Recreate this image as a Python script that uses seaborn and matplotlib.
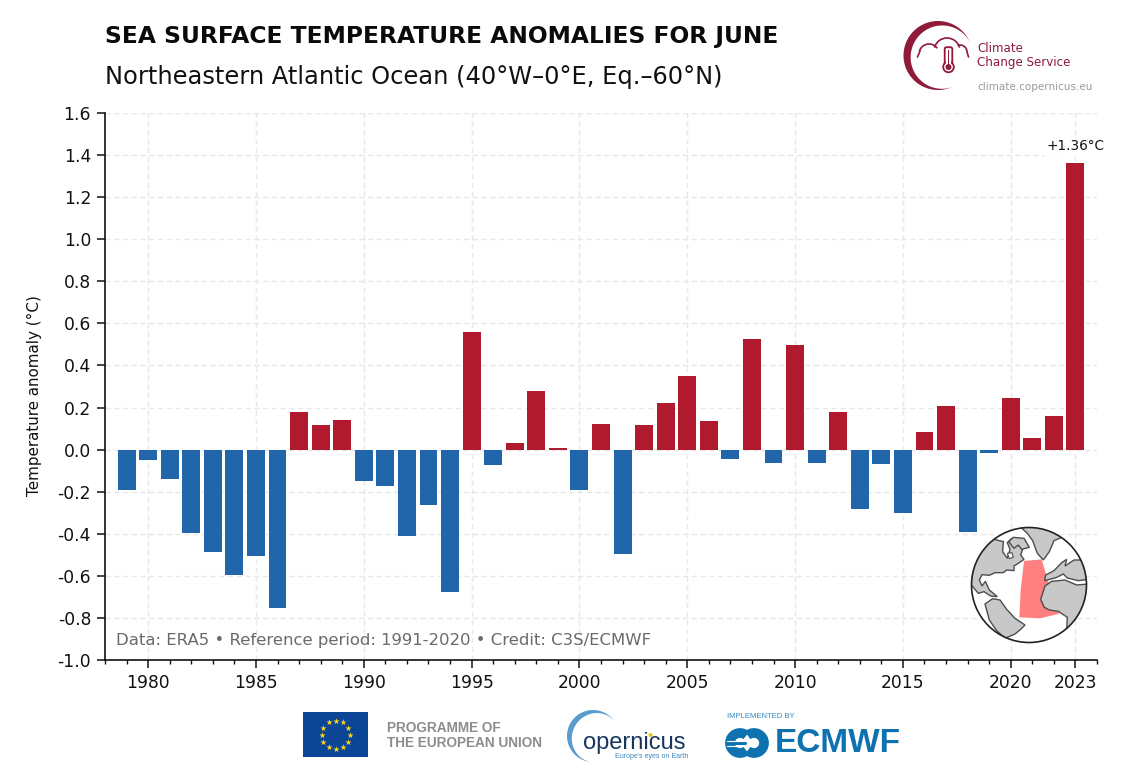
import numpy as np
import pandas as pd
import matplotlib
matplotlib.use("Agg")
import matplotlib.pyplot as plt
from matplotlib.patches import Polygon, Circle, Rectangle, FancyBboxPatch, Arc
from matplotlib.ticker import MultipleLocator, FixedLocator
import seaborn as sns

years = list(range(1979, 2024))
anomalies = [
    -0.19, -0.05, -0.14, -0.395, -0.485, -0.595, -0.505, -0.755, 0.18, 0.115,
    0.14, -0.15, -0.175, -0.41, -0.265, -0.675, 0.56, -0.075, 0.03, 0.28,
    0.01, -0.19, 0.12, -0.495, 0.115, 0.22, 0.35, 0.135, -0.045, 0.525,
    -0.065, 0.495, -0.065, 0.18, -0.28, -0.07, -0.30, 0.085, 0.205, -0.39,
    -0.015, 0.245, 0.055, 0.16, 1.36,
]
x_ticks = [1980, 1985, 1990, 1995, 2000, 2005, 2010, 2015, 2020, 2023]
y_ticks = [-1.0, -0.8, -0.6, -0.4, -0.2, 0.0, 0.2, 0.4, 0.6, 0.8, 1.0, 1.2, 1.4, 1.6]

RED = "#b0192e"
BLUE = "#2165ab"
MAROON = "#8f1a3a"

sns.set_theme(style="ticks")
plt.rcParams["font.family"] = ["DejaVu Sans"]
plt.rcParams["axes.unicode_minus"] = False

W, H = 1136, 782
fig = plt.figure(figsize=(W / 100, H / 100), dpi=100, facecolor="white")
ax = fig.add_axes([105 / W, (H - 660) / H, 992 / W, 547 / H])

df = pd.DataFrame({"year": years, "anomaly": anomalies})
df["sign"] = np.where(df["anomaly"] >= 0, "warm", "cold")
sns.barplot(data=df, x="year", y="anomaly", hue="sign", palette={"warm": RED, "cold": BLUE},
            native_scale=True, dodge=False, width=0.83, saturation=1, legend=False,
            linewidth=0, ax=ax, zorder=3)

ax.set_xlim(1978, 2024)
ax.set_ylim(-1.0, 1.6)
ax.xaxis.set_major_locator(FixedLocator(x_ticks))
ax.xaxis.set_minor_locator(MultipleLocator(1))
ax.set_xticklabels([str(y) for y in x_ticks])
ax.yaxis.set_major_locator(FixedLocator(y_ticks))
ax.set_yticklabels([f"{v:.1f}" for v in y_ticks])
ax.tick_params(axis="both", which="major", labelsize=12.3, length=6, width=1.1, color="#111111", labelcolor="#111111", pad=4)
ax.tick_params(axis="x", which="minor", length=3, width=1.0, color="#111111")
ax.set_xlabel("")
ax.set_ylabel("Temperature anomaly (°C)", fontsize=10.9, color="#111111")
ax.yaxis.set_label_coords(-0.0635, 0.4826)
ax.grid(True, which="major", linestyle=(0, (3.5, 2.5)), color="#e8e8e8", linewidth=1.05, zorder=0)
ax.set_axisbelow(True)
for s in ["top", "right"]:
    ax.spines[s].set_visible(False)
for s in ["left", "bottom"]:
    ax.spines[s].set_linewidth(1.2)
    ax.spines[s].set_color("#111111")

ax.text(2023, 1.41, "+1.36°C", fontsize=9.8, ha="center", va="bottom", color="#111111", zorder=5,
        bbox=dict(facecolor="white", edgecolor="none", pad=2))

# overlay in pixel coordinates for titles, logos and globe
ov = fig.add_axes([0, 0, 1, 1], facecolor="none")
ov.set_xlim(0, W)
ov.set_ylim(H, 0)
ov.axis("off")

ov.text(105, 36, "SEA SURFACE TEMPERATURE ANOMALIES FOR JUNE", fontsize=16.82, fontweight="bold",
        color="#0a0a0a", va="center", ha="left")
ov.text(105, 77, "Northeastern Atlantic Ocean (40°W–0°E, Eq.–60°N)", fontsize=17.33,
        color="#111111", va="center", ha="left")
ov.text(116, 641, "Data: ERA5 • Reference period: 1991-2020 • Credit: C3S/ECMWF", fontsize=11.87,
        color="#6a6a6a", va="center", ha="left")


def crescent(cx, cy, r, th, a0, a1, color, z=6):
    # ring segment that tapers to nothing at both ends
    a = np.linspace(a0, a1, 120)
    t = np.radians(a)
    outer = np.c_[cx + r * np.cos(t), cy - r * np.sin(t)]
    rr = r - th * np.sin(np.pi * (a - a0) / (a1 - a0)) ** 1.3
    inner = np.c_[cx + rr * np.cos(t), cy - rr * np.sin(t)]
    ov.add_patch(Polygon(np.r_[outer, inner[::-1]], closed=True, fc=color, ec="none", zorder=z))


# Copernicus climate logo
crescent(938, 55.5, 34.5, 7.5, 22, 295, MAROON)
for cx, cy, r, a, b in [(929, 54, 10, 35, 165), (947, 51, 13, 15, 165), (960, 52, 7, 0, 110)]:
    ov.add_patch(Arc((cx, cy), 2 * r, 2 * r, theta1=360 - b, theta2=360 - a, color=MAROON, lw=1.2, zorder=6))
ov.plot([917.5, 920], [57, 51], color=MAROON, lw=1.2, zorder=6)
ov.plot([967, 968.5], [52, 57], color=MAROON, lw=1.2, zorder=6)
ov.add_patch(FancyBboxPatch((946.5, 49), 4, 14, boxstyle="round,pad=1.8", fc="white", ec=MAROON, lw=1.3, zorder=7))
ov.add_patch(Circle((948.5, 67), 5.3, fc="white", ec=MAROON, lw=1.3, zorder=7))
ov.add_patch(Rectangle((946.3, 60), 4.4, 5, fc="white", ec="none", zorder=7))
ov.add_patch(Circle((948.5, 67), 3, fc=MAROON, ec="none", zorder=8))
ov.add_patch(Rectangle((947.8, 50), 1.4, 16, fc=MAROON, ec="none", zorder=8))
ov.text(977, 48, "Climate", fontsize=8.6, color=MAROON, va="center", ha="left")
ov.text(977, 62.5, "Change Service", fontsize=8.6, color=MAROON, va="center", ha="left")
ov.text(977, 87.5, "climate.copernicus.eu", fontsize=7.45, color="#9a9a9a", va="center", ha="left")


def gz(pts):
    return [(950 + p[0] / 3, 510 + p[1] / 3) for p in pts]


ov.add_patch(Circle((1029, 585), 57.5, fc="white", ec="none", zorder=6))
limb = Circle((1029, 585), 57.5, fc="none", ec="#222222", lw=1.2, zorder=9)
sea_box = [(222, 153), (275, 148), (290, 200), (300, 230), (330, 300), (325, 312), (270, 325), (208, 322), (212, 240)]
ov.add_patch(Polygon(gz(sea_box), closed=True, fc="#ff8080", ec="none", zorder=7))
lands = [
    # North America
    [(60, 220), (60, 120), (120, 85), (160, 95), (158, 125), (172, 145), (180, 118), (172, 98), (185, 85),
     (205, 105), (218, 118), (212, 135), (222, 148), (205, 160), (192, 168), (192, 182), (170, 180), (160, 188),
     (135, 188), (118, 196), (96, 194), (88, 210), (96, 228), (106, 214), (118, 240), (142, 260), (122, 258),
     (102, 245), (85, 250)],
    # Canadian Arctic islands
    [(176, 95), (190, 82), (222, 85), (238, 112), (215, 118), (205, 105), (192, 115)],
    # Greenland and the top of the globe
    [(205, 45), (400, 45), (340, 80), (312, 92), (298, 125), (280, 150), (262, 130), (248, 92), (232, 70)],
    # South America
    [(105, 282), (128, 266), (150, 270), (170, 298), (195, 325), (225, 345), (212, 358), (195, 372), (165, 385),
     (140, 362), (118, 330)],
    # Africa
    [(285, 228), (305, 214), (345, 210), (380, 225), (440, 220), (430, 320), (372, 345), (350, 365), (352, 322),
     (325, 304), (298, 300), (283, 292), (272, 268)],
    # Europe and Asia
    [(284, 212), (287, 195), (312, 182), (335, 158), (350, 148), (345, 168), (372, 150), (440, 150), (440, 205),
     (385, 212), (352, 204), (340, 192), (318, 203)],
]
for land in lands:
    p = Polygon(gz(land), closed=True, fc="#c8c8c8", ec="#4d4d4d", lw=1.0, zorder=8)
    ov.add_patch(p)
    p.set_clip_path(Circle((1029, 585), 57.5, transform=ov.transData))
ov.add_patch(Polygon(gz([(172, 130), (186, 128), (190, 142), (178, 146)]), closed=True, fc="white", ec="#4d4d4d", lw=0.8, zorder=8))
ov.add_patch(limb)

# bottom logos
ov.add_patch(Rectangle((303, 712), 65, 45, fc="#0b4596", ec="none"))
t = np.radians(np.arange(0, 360, 30))
ov.scatter(335.5 + 14 * np.cos(t), 734.5 + 14 * np.sin(t), marker="*", s=22, color="#ffd617", linewidths=0, zorder=6)
ov.text(387, 727.5, "PROGRAMME OF", fontsize=9.85, fontweight="bold", family="Liberation Sans", color="#8c8c8c", va="center")
ov.text(387, 743, "THE EUROPEAN UNION", fontsize=9.85, fontweight="bold", family="Liberation Sans", color="#8c8c8c", va="center")

crescent(593, 736, 26, 5.5, 35, 265, "#5a9ccd")
ov.text(583, 743, "opernicus", fontsize=17, color="#17365f", va="center", ha="left", family="Liberation Sans")
ov.add_patch(Circle((650.5, 735), 2, fc="#f2c500", ec="none", zorder=6))
ov.text(615, 757, "Europe's eyes on Earth", fontsize=5.0, color="#3f86bd", va="center", ha="left", family="Liberation Sans")

ECB = "#0f72b0"
ov.text(727, 717, "IMPLEMENTED BY", fontsize=5.5, color="#2f86c1", va="center", ha="left", family="Liberation Sans")
ov.add_patch(Arc((740, 743), 20, 20, theta1=50, theta2=310, color=ECB, lw=7, zorder=6))
ov.add_patch(Arc((754, 743), 20, 20, theta1=-130, theta2=130, color=ECB, lw=7, zorder=6))
ov.plot([727, 745], [743, 743], color=ECB, lw=2.2, zorder=7)
ov.plot([727, 745], [741, 741], color="white", lw=0.8, zorder=8)
ov.plot([727, 745], [745.5, 745.5], color="white", lw=0.8, zorder=8)
ov.text(775, 743.5, "ECMWF", fontsize=24, fontweight="bold", color=ECB, va="center", ha="left", family="Liberation Sans")

fig.savefig("out.png", dpi=100)
